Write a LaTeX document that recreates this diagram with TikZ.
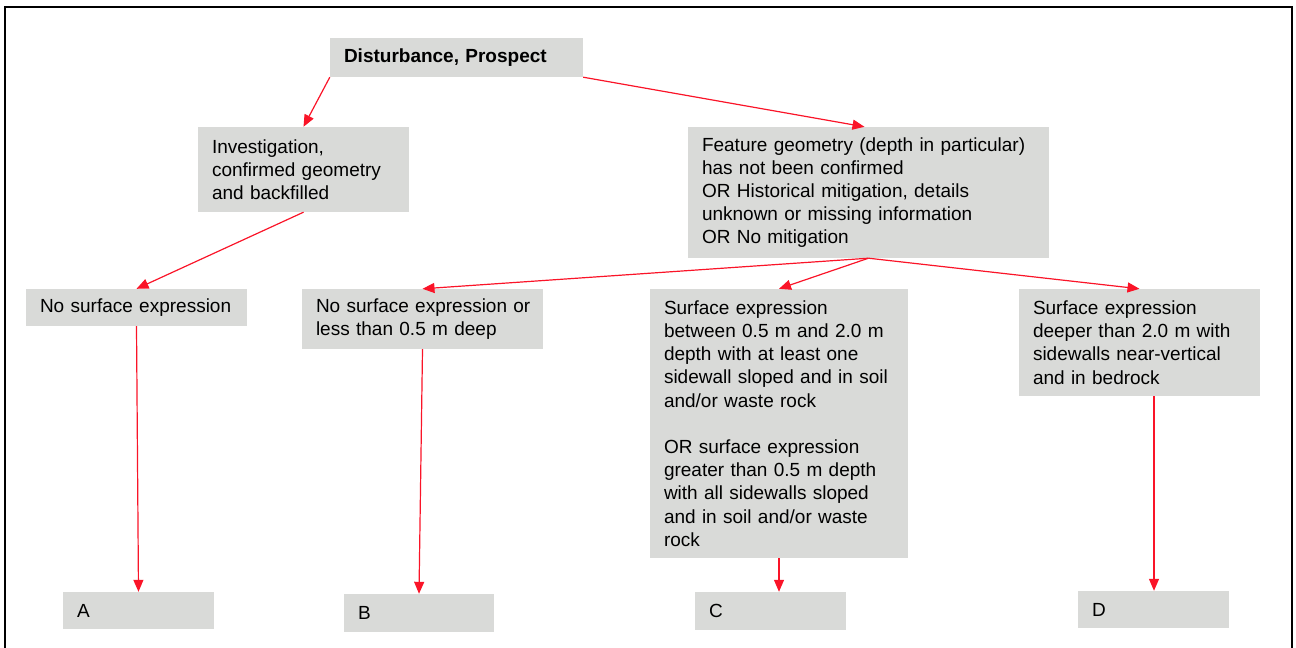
\documentclass[tikz,border=0pt]{standalone}
\usepackage{fontspec}
\setmainfont{Liberation Sans}
\usetikzlibrary{arrows.meta,calc}
\definecolor{boxgray}{RGB}{217,218,216}
\definecolor{arrred}{RGB}{250,20,40}
\begin{document}
\begin{tikzpicture}[x=1pt,y=-1pt,
  box/.style={rectangle,fill=boxgray,inner xsep=14pt,inner ysep=0pt,align=left,
    font=\fontsize{19}{23.2}\selectfont,text=black},
  arr/.style={draw=arrred,line width=1.2pt,-{Triangle[length=12pt,width=10pt]}}]
\useasboundingbox (0,0) rectangle (1296,648);
\draw[line width=2.5pt,black] (5,648) -- (5,7) -- (1292,7) -- (1292,648);

\node[box,text width=225pt,minimum height=39pt,font=\fontsize{19}{23.2}\selectfont\bfseries] (top) at (456.5,57.5) {Disturbance, Prospect};
\node[box,text width=183pt,minimum height=85pt] (inv) at (303.5,169.5) {Investigation,\\confirmed geometry\\and backfilled};
\node[box,text width=333pt,minimum height=131pt] (feat) at (868.5,192.5) {Feature geometry (depth in particular)\\has not been confirmed\\OR Historical mitigation, details\\unknown or missing information\\OR No mitigation};
\node[box,text width=193pt,minimum height=37pt] (ns) at (136.5,307.5) {No surface expression};
\node[box,text width=213pt,minimum height=60pt] (ns2) at (422.5,319) {\mbox{No surface expression or}\\less than 0.5 m deep};
\node[box,text width=230pt,minimum height=269pt] (mid) at (779,423.5) {Surface expression\\between 0.5 m and 2.0 m\\depth with at least one\\sidewall sloped and in soil\\and/or waste rock\\[23.2pt]OR surface expression\\greater than 0.5 m depth\\with all sidewalls sloped\\and in soil and/or waste\\rock};
\node[box,text width=213pt,minimum height=107pt] (deep) at (1139.5,342.5) {Surface expression\\deeper than 2.0 m with\\sidewalls near-vertical\\and in bedrock};
\node[box,text width=123pt,minimum height=37pt] (A) at (138.5,610.5) {A};
\node[box,text width=122pt,minimum height=38pt] (B) at (419,613) {B};
\node[box,text width=123pt,minimum height=38pt] (C) at (770.5,611) {C};
\node[box,text width=123pt,minimum height=37pt] (D) at (1153.5,609.5) {D};

\draw[arr] (top.south west) -- (inv.north);
\draw[arr] (top.south east) -- ($(feat.north)+(-4,0)$);
\draw[arr] (inv.south) -- (ns.north);
\draw[arr] (feat.south) -- (ns2.north);
\draw[arr] (feat.south) -- (mid.north);
\draw[arr] (feat.south) -- (deep.north);
\draw[arr] (ns.south) -- (A.north);
\draw[arr] (ns2.south) -- (B.north);
\draw[arr] (mid.south) -- (mid.south |- C.north);
\draw[arr] ($(D.north |- deep.south)+(0.5,0)$) -- ($(D.north)+(0.5,0)$);
\end{tikzpicture}
\end{document}
